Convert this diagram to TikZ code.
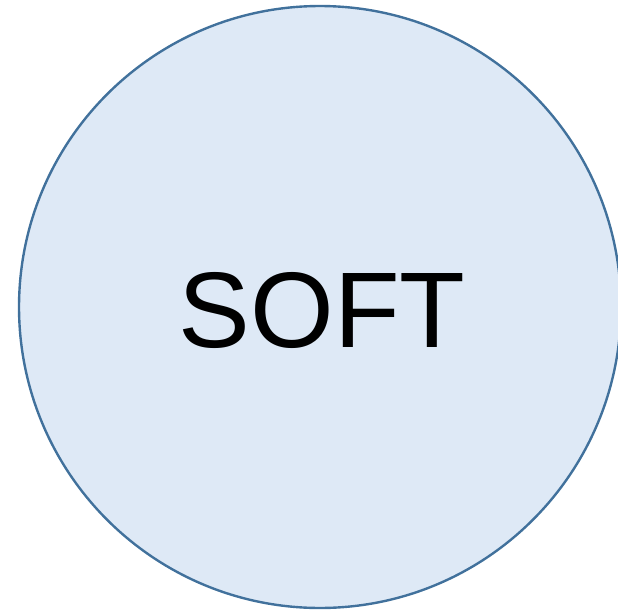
\documentclass[tikz,border=0pt]{standalone}
\usepackage{fontspec}
\setmainfont{Liberation Sans}
\usepackage{xcolor}
\definecolor{softfill}{HTML}{DEE9F6}
\definecolor{softline}{HTML}{41719C}

\begin{document}
\begin{tikzpicture}[
    x=0.05cm, y=-0.05cm,
    blob/.style={circle, draw=softline, fill=softfill, line width=3.4pt, minimum size=30.1cm, inner sep=0pt},
    big/.style={font=\fontsize{153}{155}\selectfont, text=black}
]
    \useasboundingbox (0,0) rectangle (618,610);

    % the one circle
    \node[blob] (soft) at (320,307) {};
    \node[big] (label) at (322,310) {SOFT};
\end{tikzpicture}
\end{document}
